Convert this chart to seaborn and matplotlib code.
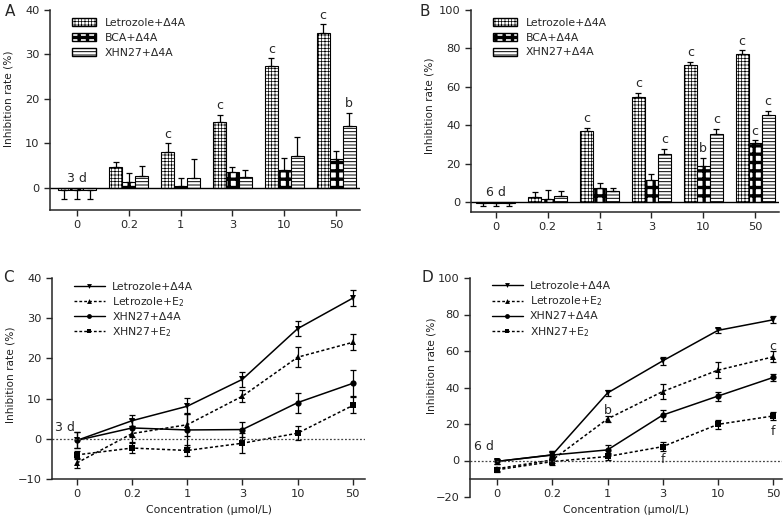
import numpy as np
import pandas as pd
import matplotlib
matplotlib.use("Agg")
import matplotlib.pyplot as plt
import seaborn as sns
from matplotlib.patches import Patch
from matplotlib.lines import Line2D

# --- data ---
conc = ["0", "0.2", "1", "3", "10", "50"]

# panel A (3 d, bars)
a_letro = [-0.4, 4.6, 8.0, 14.7, 27.3, 34.8]
a_letro_err = [2.2, 1.2, 2.0, 1.7, 1.8, 2.0]
a_bca = [-0.4, 1.3, 0.5, 3.5, 3.9, 6.5]
a_bca_err = [2.2, 2.0, 1.7, 1.1, 2.7, 1.7]
a_xhn = [-0.4, 2.6, 2.2, 2.4, 7.1, 13.8]
a_xhn_err = [2.2, 2.4, 4.2, 1.7, 4.4, 3.1]

# panel B (6 d, bars)
b_letro = [-0.5, 2.6, 36.9, 54.8, 71.3, 77.0]
b_letro_err = [1.3, 2.6, 1.7, 2.1, 1.7, 2.0]
b_bca = [-0.5, 1.9, 7.5, 11.8, 19.0, 31.0]
b_bca_err = [1.3, 4.4, 2.5, 2.8, 4.0, 1.2]
b_xhn = [-0.5, 3.5, 5.9, 24.9, 35.3, 45.6]
b_xhn_err = [1.3, 2.2, 1.8, 2.9, 3.0, 1.9]

# panel C (3 d, lines)
c_letro_d4a = [-0.4, 4.5, 8.1, 14.8, 27.4, 35.0]
c_letro_d4a_err = [2.0, 1.3, 2.0, 1.8, 1.9, 2.0]
c_letro_e2 = [-6.0, 1.3, 3.5, 10.6, 20.3, 24.0]
c_letro_e2_err = [1.2, 2.0, 2.7, 1.5, 2.5, 2.0]
c_xhn_d4a = [-0.4, 2.7, 2.2, 2.3, 9.0, 13.8]
c_xhn_d4a_err = [2.0, 2.3, 4.2, 1.8, 2.5, 3.2]
c_xhn_e2 = [-4.0, -2.3, -2.9, -1.1, 1.4, 8.3]
c_xhn_e2_err = [1.0, 1.3, 1.3, 2.5, 1.8, 2.0]

# panel D (6 d, lines)
d_letro_d4a = [-0.5, 3.1, 37.0, 54.6, 71.3, 77.1]
d_letro_d4a_err = [1.5, 2.0, 1.5, 2.0, 1.5, 2.0]
d_letro_e2 = [-4.5, 0.3, 22.8, 37.8, 49.5, 56.8]
d_letro_e2_err = [1.0, 1.5, 1.8, 4.0, 4.5, 3.0]
d_xhn_d4a = [-0.5, 3.0, 5.8, 24.9, 35.3, 45.5]
d_xhn_d4a_err = [1.5, 2.0, 2.5, 3.0, 2.5, 2.0]
d_xhn_e2 = [-5.1, -0.6, 2.2, 7.6, 19.8, 24.4]
d_xhn_e2_err = [1.0, 2.0, 2.0, 2.5, 2.5, 2.0]

bar_groups = ["Letrozole+Δ4A", "BCA+Δ4A", "XHN27+Δ4A"]
line_groups = ["Letrozole+Δ4A", "Letrozole+E$_2$", "XHN27+Δ4A", "XHN27+E$_2$"]

# significance letters: (group index, concentration index, letter)
a_marks = [(0, 2, "c"), (0, 3, "c"), (0, 4, "c"), (0, 5, "c"), (2, 5, "b")]
b_marks = [(0, 2, "c"), (0, 3, "c"), (0, 4, "c"), (0, 5, "c"),
           (2, 3, "c"), (2, 4, "c"), (2, 5, "c"), (1, 4, "b"), (1, 5, "c")]
d_marks = [(1, 2, 27.5, "b"), (1, 5, 62.5, "c"), (3, 5, 16.0, "f"), (3, 3, 0.5, "f")]

sns.set_style("ticks")
plt.rcParams["font.family"] = ["DejaVu Sans"]
plt.rcParams["hatch.linewidth"] = 0.6

fig = plt.figure(figsize=(7.84, 5.22), dpi=100)
W, H = 784, 522

# hatch pattern and hatch line width per bar group
hatches = ["+++++", "++", "-----"]
hatch_lw = [0.5, 2.4, 0.7]


def px_axes(left, top, right, bottom):
    return fig.add_axes([left / W, 1 - bottom / H, (right - left) / W, (bottom - top) / H])


def style_axes(ax, label_x_px, label_yfrac, left_px, width_px):
    sns.despine(ax=ax)
    for s in ["left", "bottom"]:
        ax.spines[s].set_linewidth(1.1)
    ax.tick_params(axis="both", labelsize=8.2, width=1.0, length=4, direction="out")
    ax.set_ylabel("Inhibition rate (%)", fontsize=7.6, color="#222222")
    ax.yaxis.set_label_coords((label_x_px - left_px) / width_px, label_yfrac)


def set_hlw(p, lw):
    if hasattr(p, "set_hatch_linewidth"):
        p.set_hatch_linewidth(lw)


def bar_panel(ax, vals, errs, marks, ylim, yticks, xlim, day_label, day_y, geo):
    df = pd.DataFrame({
        "conc": conc * 3,
        "value": sum(vals, []),
        "group": [g for g in bar_groups for _ in conc],
    })
    sns.barplot(data=df, x="conc", y="value", hue="group", order=conc,
                hue_order=bar_groups, width=0.75, errorbar=None,
                palette=["white"] * 3, edgecolor="black", linewidth=0.8,
                legend=False, ax=ax)
    bar_conts = list(ax.containers)
    for i, cont in enumerate(bar_conts):
        for bar in cont:
            bar.set_hatch(hatches[i])
            set_hlw(bar, hatch_lw[i])
        xs = [b.get_x() + b.get_width() / 2 for b in cont]
        v = np.array(vals[i])
        e = np.array(errs[i])
        lower = np.where(v < 0, e, 0)
        upper = np.where(v >= 0, e, 0)
        ax.errorbar(xs, v, yerr=[lower, upper], fmt="none", ecolor="black",
                    elinewidth=0.9, capsize=2.5, capthick=0.9)
        for gi, ci, letter in marks:
            if gi == i:
                ax.text(xs[ci], vals[i][ci] + errs[i][ci] + 0.6 * (ylim[1] / 40),
                        letter, ha="center", va="bottom", fontsize=9)
    ax.axhline(0, color="black", lw=1.0)
    ax.set_ylim(*ylim)
    ax.set_yticks(yticks)
    ax.set_xlim(*xlim)
    ax.set_xlabel("")
    style_axes(ax, *geo)
    ax.text(0, day_y, day_label, ha="center", va="bottom", fontsize=9)
    handles = []
    for h, lw, g in zip(hatches, hatch_lw, bar_groups):
        p = Patch(facecolor="white", edgecolor="black", hatch=h, label=g)
        set_hlw(p, lw)
        handles.append(p)
    leg = ax.legend(handles=handles, loc="upper left", bbox_to_anchor=(0.04, 1.01),
                    frameon=False, fontsize=7.8, handlelength=2.2, handleheight=0.8,
                    labelspacing=0.45, handletextpad=0.8)
    for p, lw in zip(leg.get_patches(), hatch_lw):
        set_hlw(p, lw)


def line_panel(ax, vals, errs, ylim, yticks, xlim, day_label, day_xy, geo):
    pos = list(range(len(conc)))
    df = pd.DataFrame({
        "pos": pos * 4,
        "value": sum(vals, []),
        "series": [g for g in line_groups for _ in conc],
    })
    markers = dict(zip(line_groups, ["v", "^", "o", "s"]))
    dashes = dict(zip(line_groups, ["", (2, 1.5), "", (2, 1.5)]))
    sns.lineplot(data=df, x="pos", y="value", hue="series", style="series",
                 hue_order=line_groups, style_order=line_groups,
                 palette=["black"] * 4, markers=markers, dashes=dashes,
                 markersize=4.5, markeredgewidth=0, linewidth=1.1,
                 legend=False, ax=ax)
    for v, e in zip(vals, errs):
        ax.errorbar(pos, v, yerr=e, fmt="none", ecolor="black",
                    elinewidth=0.9, capsize=2.5, capthick=0.9)
    ax.axhline(0, color="#444444", lw=0.9, ls=(0, (1.5, 1.5)))
    ax.set_ylim(*ylim)
    ax.set_yticks(yticks)
    ax.set_xlim(*xlim)
    ax.set_xticks(pos)
    ax.set_xticklabels(conc)
    ax.set_xlabel("Concentration (μmol/L)", fontsize=7.8, color="#222222")
    style_axes(ax, *geo)
    ax.text(day_xy[0], day_xy[1], day_label, ha="center", va="bottom", fontsize=9)
    handles = [Line2D([], [], color="black", lw=1.0,
                      ls="-" if dashes[g] == "" else (0, (2, 1.5)),
                      marker=markers[g], markersize=3.5, markeredgewidth=0,
                      label=g) for g in line_groups]
    ax.legend(handles=handles, loc="upper left", bbox_to_anchor=(0.04, 1.03),
              frameon=False, fontsize=7.8, handlelength=2.8,
              labelspacing=0.3, handletextpad=0.7)


# --- A ---
axA = px_axes(50, 10, 360, 210)
bar_panel(axA, [a_letro, a_bca, a_xhn], [a_letro_err, a_bca_err, a_xhn_err],
          a_marks, (-5, 40), [0, 10, 20, 30, 40], (-0.52, 5.46), "3 d", 0.6,
          (14, 0.555, 50, 310))

# --- B ---
axB = px_axes(471, 10, 779, 212)
bar_panel(axB, [b_letro, b_bca, b_xhn], [b_letro_err, b_bca_err, b_xhn_err],
          b_marks, (-5, 100), [0, 20, 40, 60, 80, 100], (-0.48, 5.46), "6 d", 1.5,
          (435, 0.525, 471, 308))

# --- C ---
axC = px_axes(52, 278, 365, 479)
line_panel(axC, [c_letro_d4a, c_letro_e2, c_xhn_d4a, c_xhn_e2],
           [c_letro_d4a_err, c_letro_e2_err, c_xhn_d4a_err, c_xhn_e2_err],
           (-10, 40), [-10, 0, 10, 20, 30, 40], (-0.45, 5.22), "3 d", (-0.22, 1.3),
           (16, 0.52, 52, 313))

# --- D ---
axD = px_axes(470, 278, 782, 497)
line_panel(axD, [d_letro_d4a, d_letro_e2, d_xhn_d4a, d_xhn_e2],
           [d_letro_d4a_err, d_letro_e2_err, d_xhn_d4a_err, d_xhn_e2_err],
           (-20, 100), [-20, 0, 20, 40, 60, 80, 100], (-0.49, 5.16), "6 d", (-0.24, 4.0),
           (437, 0.6, 470, 312))
axD.spines["bottom"].set_position(("data", -10))
for gi, ci, y, letter in d_marks:
    axD.text(ci, y, letter, ha="center", va="center", fontsize=9)

# panel letters
for x, y, lab in [(10, 12, "A"), (425, 12, "B"), (8, 277, "C"), (427, 278, "D")]:
    fig.text(x / W, 1 - y / H, lab, fontsize=11, ha="center", va="center")

fig.savefig("out.png", dpi=100)
